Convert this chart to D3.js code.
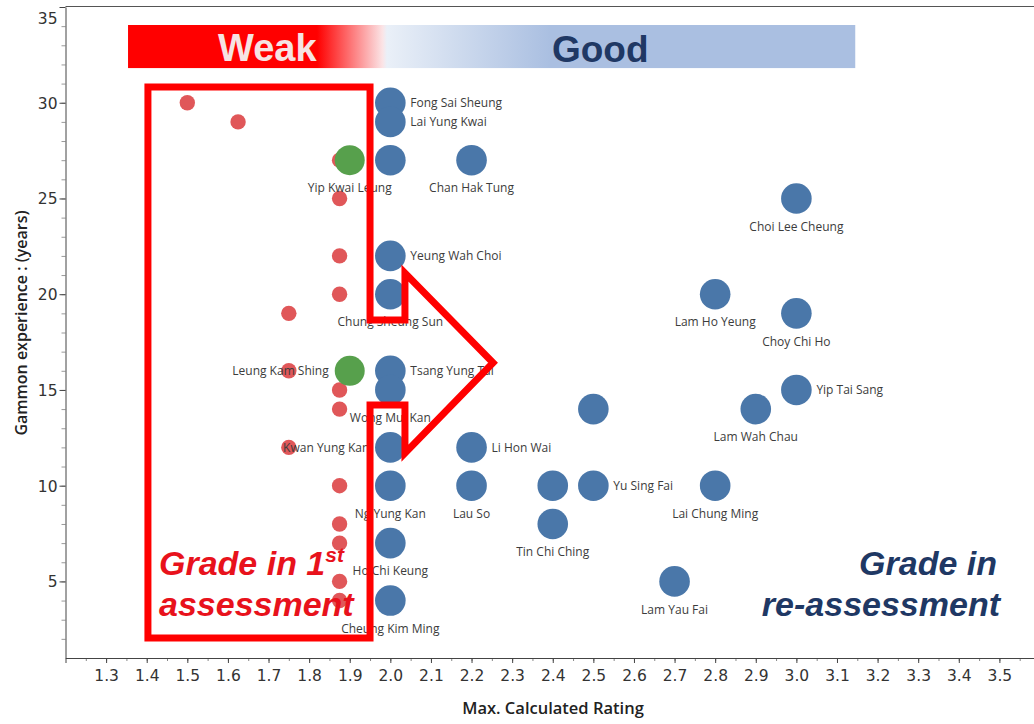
<!DOCTYPE html>
<html>
<head>
<meta charset="utf-8">
<script src="https://cdn.jsdelivr.net/npm/d3@7"></script>
<style>
  html, body { margin: 0; padding: 0; background: #fff; }
  svg { display: block; }
</style>
</head>
<body>
<svg id="chart" width="1034" height="724"></svg>
<script>
// ---------------- DATA ----------------
// Weak grade in 1st assessment (small red dots)
const weakRating = [1.5, 1.625, 1.875, 1.875, 1.875, 1.875, 1.75, 1.75, 1.875, 1.875, 1.75, 1.875, 1.875, 1.875, 1.875, 1.875];
const weakYears  = [30, 29, 27, 25, 22, 20, 19, 16, 15, 14, 12, 10, 8, 7, 5, 4];

// Re-assessed, green
const greenNames  = ["Yip Kwai Leung", "Leung Kam Shing"];
const greenRating = [1.9, 1.9];
const greenYears  = [27, 16];

// Re-assessed, good (blue)
const blueNames = ["Fong Sai Sheung", "Lai Yung Kwai", "", "Chan Hak Tung", "Choi Lee Cheung",
  "Yeung Wah Choi", "Chung Sheung Sun", "Lam Ho Yeung", "Choy Chi Ho", "Tsang Yung Tai",
  "Wong Mui Kan", "Yip Tai Sang", "", "Lam Wah Chau", "Kwan Yung Kan", "Li Hon Wai",
  "Ng Yung Kan", "Lau So", "", "Yu Sing Fai", "Lai Chung Ming", "Tin Chi Ching",
  "Ho Chi Keung", "Lam Yau Fai", "Cheung Kim Ming"];
const blueRating = [2.0, 2.0, 2.0, 2.2, 3.0, 2.0, 2.0, 2.8, 3.0, 2.0, 2.0, 3.0, 2.5, 2.9, 2.0, 2.2,
  2.0, 2.2, 2.4, 2.5, 2.8, 2.4, 2.0, 2.7, 2.0];
const blueYears = [30, 29, 27, 27, 25, 22, 20, 20, 19, 16, 15, 15, 14, 14, 12, 12,
  10, 10, 10, 10, 10, 8, 7, 5, 4];

// Axis ticks
const xTicks = [1.3, 1.4, 1.5, 1.6, 1.7, 1.8, 1.9, 2.0, 2.1, 2.2, 2.3, 2.4, 2.5, 2.6, 2.7, 2.8, 2.9, 3.0, 3.1, 3.2, 3.3, 3.4, 3.5];
const yTicks = [5, 10, 15, 20, 25, 30, 35];

// Label placement (style)
const labelSide = {
  "Yip Kwai Leung": "below", "Leung Kam Shing": "left",
  "Fong Sai Sheung": "right", "Lai Yung Kwai": "right", "Chan Hak Tung": "below",
  "Choi Lee Cheung": "below", "Yeung Wah Choi": "right", "Chung Sheung Sun": "below",
  "Lam Ho Yeung": "below", "Choy Chi Ho": "below", "Tsang Yung Tai": "right",
  "Wong Mui Kan": "below", "Yip Tai Sang": "right", "Lam Wah Chau": "below",
  "Kwan Yung Kan": "left", "Li Hon Wai": "right", "Ng Yung Kan": "below", "Lau So": "below",
  "Yu Sing Fai": "right", "Lai Chung Ming": "below", "Tin Chi Ching": "below",
  "Ho Chi Keung": "below", "Lam Yau Fai": "below", "Cheung Kim Ming": "below"
};

// ---------------- CHART ----------------
const svg = d3.select("#chart");
const x = d3.scaleLinear().domain([1.2, 3.6]).range([65.5, 1040]);
const y = d3.scaleLinear().domain([1, 35]).range([658, 7]);

const axisColor = "#444";
const tickFont = "'DejaVu Sans', sans-serif";

// top frame line
svg.append("line")
  .attr("x1", x(1.2)).attr("x2", x(3.6)).attr("y1", y(35) - 0.5).attr("y2", y(35) - 0.5)
  .attr("stroke", "#555").attr("stroke-width", 1);

// X axis
const xMinor = d3.range(25, 72).map(i => i / 20);
const gxm = svg.append("g").attr("transform", `translate(0,${y(1)})`)
  .call(d3.axisBottom(x).tickValues(xMinor).tickSize(3).tickFormat("").tickSizeOuter(0));
gxm.select(".domain").remove();
gxm.selectAll("line").attr("stroke", "#888");
const gx = svg.append("g").attr("transform", `translate(0,${y(1)})`)
  .call(d3.axisBottom(x).tickValues([1.2].concat(xTicks)).tickSize(5).tickSizeOuter(0)
    .tickFormat(d => d === 1.2 ? "" : d3.format(".1f")(d)));
gx.select(".domain").attr("stroke", axisColor);
gx.selectAll("line").attr("stroke", axisColor);
gx.selectAll("text").attr("font-family", tickFont).attr("font-size", 15.5)
  .attr("fill", "#333").attr("dy", "0.95em");

// Y axis
const yMinor = d3.range(2, 35);
const gym = svg.append("g").attr("transform", `translate(${x(1.2)},0)`)
  .call(d3.axisLeft(y).tickValues(yMinor).tickSize(4).tickFormat("").tickSizeOuter(0));
gym.select(".domain").remove();
gym.selectAll("line").attr("stroke", "#999");
const gy = svg.append("g").attr("transform", `translate(${x(1.2)},0)`)
  .call(d3.axisLeft(y).tickValues(yTicks).tickSize(6).tickSizeOuter(0));
gy.select(".domain").attr("stroke", axisColor);
gy.selectAll("line").attr("stroke", axisColor);
gy.selectAll("text").attr("font-family", tickFont).attr("font-size", 15.5)
  .attr("fill", "#333").attr("x", -8)
  .attr("dy", d => d === 35 ? "1.05em" : "0.35em");

// Axis titles
svg.append("text")
  .attr("x", 553).attr("y", 714).attr("text-anchor", "middle")
  .attr("font-family", "'Open Sans', sans-serif").attr("font-weight", 600).attr("font-size", 16.5)
  .attr("fill", "#222").text("Max. Calculated Rating");
svg.append("text")
  .attr("transform", "translate(27,323) rotate(-90)").attr("text-anchor", "middle")
  .attr("font-family", "'Open Sans', sans-serif").attr("font-weight", 600).attr("font-size", 16)
  .attr("fill", "#222").text("Gammon experience : (years)");

// Header band
const defs = svg.append("defs");
const grad = defs.append("linearGradient").attr("id", "band").attr("x1", "0%").attr("x2", "100%");
[[0, "#ff0000"], [0.26, "#ff0000"], [0.35, "#fbe4e6"], [0.356, "#eaf0f8"], [0.58, "#aabfe1"], [1, "#aabfe1"]]
  .forEach(([o, c]) => grad.append("stop").attr("offset", o).attr("stop-color", c));
svg.append("rect")
  .attr("x", x(1.354)).attr("width", x(3.145) - x(1.354))
  .attr("y", y(34.06)).attr("height", y(31.81) - y(34.06))
  .attr("fill", "url(#band)");
svg.append("text").attr("x", x(1.697)).attr("y", y(32.2)).attr("text-anchor", "middle")
  .attr("font-family", "'Liberation Sans', Arial, sans-serif").attr("font-weight", 700)
  .attr("font-size", 38).attr("fill", "#f6e3e3").text("Weak");
svg.append("text").attr("x", x(2.517)).attr("y", y(32.15)).attr("text-anchor", "middle")
  .attr("font-family", "'Liberation Sans', Arial, sans-serif").attr("font-weight", 700)
  .attr("font-size", 37).attr("fill", "#1f3864").text("Good");

// Points
const weak = weakRating.map((r, i) => ({ r, yrs: weakYears[i] }));
const green = greenRating.map((r, i) => ({ r, yrs: greenYears[i], name: greenNames[i] }));
const blue = blueRating.map((r, i) => ({ r, yrs: blueYears[i], name: blueNames[i] }));

svg.append("g").selectAll("circle").data(weak).join("circle")
  .attr("cx", d => x(d.r)).attr("cy", d => y(d.yrs)).attr("r", 7.7)
  .attr("fill", "#e05759");
svg.append("g").selectAll("circle").data(green).join("circle")
  .attr("cx", d => x(d.r)).attr("cy", d => y(d.yrs)).attr("r", 15)
  .attr("fill", "#57a04c");
svg.append("g").selectAll("circle").data(blue).join("circle")
  .attr("cx", d => x(d.r)).attr("cy", d => y(d.yrs)).attr("r", 15.3)
  .attr("fill", "#4a77a9");

// Labels
const labeled = green.concat(blue).filter(d => d.name);
svg.append("g").selectAll("text").data(labeled).join("text")
  .attr("font-family", "'Open Sans', sans-serif").attr("font-size", 12).attr("fill", "#3c3c3c")
  .each(function (d) {
    const side = labelSide[d.name];
    const t = d3.select(this);
    const cx = x(d.r), cy = y(d.yrs);
    if (side === "right") t.attr("x", cx + 20).attr("y", cy).attr("dy", "0.35em").attr("text-anchor", "start");
    else if (side === "left") t.attr("x", cx - 21).attr("y", cy).attr("dy", "0.35em").attr("text-anchor", "end");
    else t.attr("x", cx).attr("y", cy + 28).attr("dy", "0.35em").attr("text-anchor", "middle");
  })
  .text(d => d.name);

// Rectangle + arrow annotation (in data units)
const R = { left: 1.403, right: 1.95, top: 30.82, bottom: 2.04,
  notchX: 2.036, notchTop: 18.65, notchBot: 14.21, headTop: 21.1, headBot: 11.7, tipX: 2.253, tipY: 16.42 };
const pts = [
  [R.right, R.notchTop], [R.right, R.top], [R.left, R.top], [R.left, R.bottom], [R.right, R.bottom],
  [R.right, R.notchBot], [R.notchX, R.notchBot], [R.notchX, R.headBot], [R.tipX, R.tipY],
  [R.notchX, R.headTop], [R.notchX, R.notchTop]
];
svg.append("path")
  .attr("d", d3.line().x(d => x(d[0])).y(d => y(d[1]))(pts) + "Z")
  .attr("fill", "none").attr("stroke", "#ff0000").attr("stroke-width", 7)
  .attr("stroke-linejoin", "miter");

// Annotation texts
const redText = svg.append("g")
  .attr("font-family", "'Liberation Sans', Arial, sans-serif").attr("font-weight", 700)
  .attr("font-style", "italic").attr("fill", "#e8121c");
const l1 = redText.append("text").attr("x", 159).attr("y", 575).attr("font-size", 34);
l1.append("tspan").text("Grade in 1");
l1.append("tspan").attr("font-size", 21).attr("dy", -13).text("st");
redText.append("text").attr("x", 159).attr("y", 616).attr("font-size", 34).text("assessment");

const blueText = svg.append("g")
  .attr("font-family", "'Liberation Sans', Arial, sans-serif").attr("font-weight", 700)
  .attr("font-style", "italic").attr("fill", "#1f3864").attr("text-anchor", "end")
  .attr("font-size", 34);
blueText.append("text").attr("x", 997).attr("y", 575).text("Grade in");
blueText.append("text").attr("x", 1000).attr("y", 616).text("re-assessment");
</script>
</body>
</html>
